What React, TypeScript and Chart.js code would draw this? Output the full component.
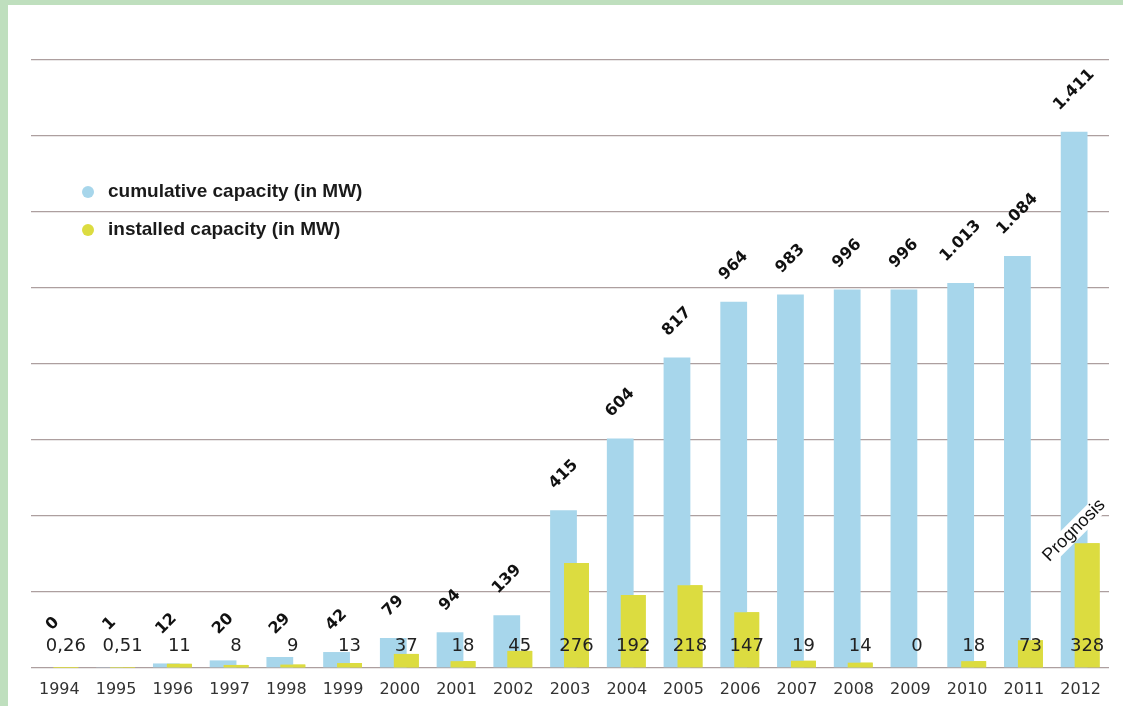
import React, { useEffect, useRef } from "react";
import { Chart, registerables } from "chart.js";

Chart.register(...registerables);

const years = [
  "1994", "1995", "1996", "1997", "1998", "1999", "2000", "2001", "2002", "2003",
  "2004", "2005", "2006", "2007", "2008", "2009", "2010", "2011", "2012",
];
const cumulative = [0, 1, 12, 20, 29, 42, 79, 94, 139, 415, 604, 817, 964, 983, 996, 996, 1013, 1084, 1411];
const installed = [0.26, 0.51, 11, 8, 9, 13, 37, 18, 45, 276, 192, 218, 147, 19, 14, 0, 18, 73, 328];
const cumulativeLabels = [
  "0", "1", "12", "20", "29", "42", "79", "94", "139", "415",
  "604", "817", "964", "983", "996", "996", "1.013", "1.084", "1.411",
];
const installedLabels = [
  "0,26", "0,51", "11", "8", "9", "13", "37", "18", "45", "276",
  "192", "218", "147", "19", "14", "0", "18", "73", "328",
];
const seriesNames = ["cumulative capacity (in MW)", "installed capacity (in MW)"];
const noteLabel = "Prognosis";
const yMax = 1600;
const yStep = 200;

const BLUE = "#a7d6eb";
const YELLOW = "#dcdc40";
const GREEN = "#bfdfbe";

const overlayPlugin = {
  id: "overlay",
  afterDatasetsDraw(chart: any) {
    const ctx = chart.ctx as CanvasRenderingContext2D;
    // installed bars drawn on top of cumulative bars
    const metaY = chart.getDatasetMeta(1);
    metaY.data.forEach((el: any) => el.draw(ctx));

    const base = chart.scales.y.getPixelForValue(0);
    const metaB = chart.getDatasetMeta(0);

    // rotated cumulative labels
    ctx.save();
    ctx.font = "bold 16px 'DejaVu Sans'";
    ctx.fillStyle = "#111111";
    ctx.textAlign = "center";
    ctx.textBaseline = "middle";
    metaB.data.forEach((bar: any, i: number) => {
      const txt = cumulativeLabels[i];
      const w = ctx.measureText(txt).width;
      let cy = bar.y - 24 - (w / 2) * Math.SQRT1_2;
      cy = Math.min(cy, base - 44);
      ctx.save();
      ctx.translate(bar.x, cy);
      ctx.rotate(-Math.PI / 4);
      ctx.fillText(txt, 0, 0);
      ctx.restore();
    });
    ctx.restore();

    // installed value row
    ctx.save();
    ctx.font = "18px 'DejaVu Sans'";
    ctx.fillStyle = "#222222";
    ctx.textAlign = "center";
    ctx.textBaseline = "middle";
    metaY.data.forEach((bar: any, i: number) => {
      ctx.fillText(installedLabels[i], bar.x, base - 22);
    });
    ctx.restore();

    // Prognosis note
    const last = metaY.data[metaY.data.length - 1];
    ctx.save();
    ctx.font = "18px 'Liberation Sans'";
    const nw = ctx.measureText(noteLabel).width;
    ctx.translate(last.x - 13, last.y - 13);
    ctx.rotate(-Math.PI / 4);
    ctx.fillStyle = "#ffffff";
    ctx.fillRect(-nw / 2 - 1, -9, nw + 2, 18);
    ctx.fillStyle = "#111111";
    ctx.textAlign = "center";
    ctx.textBaseline = "middle";
    ctx.fillText(noteLabel, 0, 0);
    ctx.restore();
  },
  afterDraw(chart: any) {
    const ctx = chart.ctx as CanvasRenderingContext2D;
    ctx.save();
    ctx.font = "bold 19px 'Liberation Sans'";
    ctx.textBaseline = "middle";
    chart.data.datasets.forEach((ds: any, i: number) => {
      const y = 192 + 38 * i;
      ctx.fillStyle = ds.backgroundColor;
      ctx.beginPath();
      ctx.arc(88, y, 6, 0, Math.PI * 2);
      ctx.fill();
      ctx.fillStyle = "#1a1a1a";
      ctx.fillText(ds.label, 108, y);
    });
    ctx.restore();
  },
};

export default function App() {
  const canvasRef = useRef<HTMLCanvasElement | null>(null);

  useEffect(() => {
    const canvas = canvasRef.current;
    if (!canvas) return;
    const chart = new Chart(canvas, {
      type: "bar",
      data: {
        labels: years,
        datasets: [
          {
            label: seriesNames[0],
            data: cumulative,
            backgroundColor: BLUE,
            borderWidth: 0,
            categoryPercentage: 0.458,
            barPercentage: 2.06,
          },
          {
            label: seriesNames[1],
            data: installed,
            backgroundColor: YELLOW,
            borderWidth: 0,
            categoryPercentage: 0.458,
            barPercentage: 1.92,
          },
        ],
      },
      options: {
        responsive: false,
        animation: false,
        layout: { padding: { left: 31, right: 14, top: 60, bottom: -5.2 } },
        plugins: {
          legend: { display: false },
          tooltip: { enabled: false },
          title: { display: false },
        },
        scales: {
          x: {
            grid: { display: false, drawTicks: false },
            border: { display: false },
            ticks: {
              padding: 12,
              color: "#333333",
              font: { family: "'DejaVu Sans'", size: 16 },
              maxRotation: 0,
              autoSkip: false,
            },
          },
          y: {
            min: 0,
            max: yMax,
            ticks: { display: false, stepSize: yStep },
            grid: { color: "#ad9f9f", lineWidth: 1.3, drawTicks: false },
            border: { display: false },
          },
        },
      },
      plugins: [overlayPlugin],
    });
    return () => chart.destroy();
  }, []);

  return (
    <div
      style={{
        position: "absolute",
        left: 0,
        top: 0,
        width: 1123,
        height: 706,
        background: "#ffffff",
        overflow: "hidden",
      }}
    >
      <div style={{ position: "absolute", left: 0, top: 0, width: 1123, height: 5, background: GREEN }} />
      <div style={{ position: "absolute", left: 0, top: 0, width: 8, height: 706, background: GREEN }} />
      <canvas
        ref={canvasRef}
        width={1123}
        height={706}
        style={{ position: "absolute", left: 0, top: 0, width: 1123, height: 706 }}
      />
    </div>
  );
}
